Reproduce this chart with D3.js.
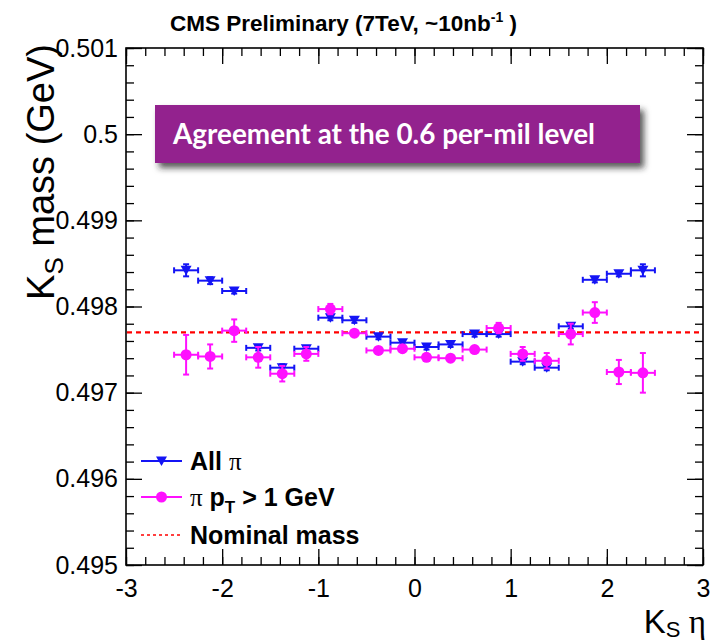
<!DOCTYPE html>
<html>
<head>
<meta charset="utf-8">
<script src="https://cdn.jsdelivr.net/npm/d3@7"></script>
<style>
  body { margin: 0; background: #fff; }
  svg { display: block; }
</style>
</head>
<body>
<svg id="chart" width="717" height="643"></svg>
<script>
// K_S eta bins (width 0.25)
const binCenters = [-2.375, -2.125, -1.875, -1.625, -1.375, -1.125, -0.875, -0.625, -0.375, -0.125,
                     0.125,  0.375,  0.625,  0.875,  1.125,  1.375,  1.625,  1.875,  2.125,  2.375];
const binHalfWidth = 0.125;

// Fitted K_S mass (GeV), all pion daughters
const allPiMass = [0.49842, 0.49830, 0.49818, 0.49752, 0.49729, 0.49751, 0.49787, 0.49784, 0.49765, 0.49758,
                   0.49753, 0.49756, 0.49768, 0.49768, 0.49736, 0.49729, 0.49777, 0.49831, 0.49838, 0.49842];
const allPiErr  = [0.00007, 0.00004, 0.00003, 0.00003, 0.00004, 0.00003, 0.00003, 0.00003, 0.00003, 0.00003,
                   0.00003, 0.00003, 0.00003, 0.00003, 0.00003, 0.00003, 0.00003, 0.00003, 0.00003, 0.00007];

// Fitted K_S mass (GeV), pion daughters with pT > 1 GeV
const highPtMass = [0.49744, 0.49742, 0.49772, 0.49741, 0.49722, 0.49745, 0.49797, 0.49769, 0.49749, 0.49751,
                    0.49741, 0.49740, 0.49750, 0.49775, 0.49745, 0.49737, 0.49768, 0.49793, 0.49724, 0.49723];
const highPtErr  = [0.00023, 0.00014, 0.00013, 0.00012, 0.00009, 0.00008, 0.00006, 0.00003, 0.00003, 0.00003,
                    0.00003, 0.00003, 0.00003, 0.00006, 0.00008, 0.00009, 0.00012, 0.00012, 0.00014, 0.00023];

const nominalMass = 0.4977;

const xTickValues = [-3, -2, -1, 0, 1, 2, 3];
const xTickLabels = ["-3", "-2", "-1", "0", "1", "2", "3"];
const yTickValues = [0.495, 0.496, 0.497, 0.498, 0.499, 0.500, 0.501];
const yTickLabels = ["0.495", "0.496", "0.497", "0.498", "0.499", "0.5", "0.501"];

const seriesNames = ["All \u03c0", "\u03c0 p", "Nominal mass"];

const svg = d3.select("#chart");
const frame = { left: 126, right: 703, top: 48, bottom: 565 };

const x = d3.scaleLinear().domain([-3, 3]).range([frame.left, frame.right]);
const y = d3.scaleLinear().domain([0.495, 0.501]).range([frame.bottom, frame.top]);

const font = "'Liberation Sans', Arial, Helvetica, sans-serif";

// ---- axes (ROOT style: ticks on all four sides, pointing inward) ----
function styleAxis(g) {
  g.select(".domain").remove();
  g.selectAll(".tick line").attr("stroke", "#000").attr("stroke-width", 1.3);
  g.selectAll("text").attr("font-family", font).attr("font-size", 25).attr("fill", "#000");
}

const xMinor = x.ticks(30);
const yMinor = y.ticks(30);

// bottom
svg.append("g").attr("transform", `translate(0,${frame.bottom})`)
  .call(d3.axisBottom(x).tickValues(xMinor).tickSize(-8).tickFormat(""))
  .call(styleAxis);
svg.append("g").attr("transform", `translate(0,${frame.bottom})`)
  .call(d3.axisBottom(x).tickValues(xTickValues).tickSize(-16).tickPadding(10)
        .tickFormat((d, i) => xTickLabels[i]))
  .call(styleAxis)
  .selectAll("text").attr("dy", "0.71em").attr("y", 14);
// top
svg.append("g").attr("transform", `translate(0,${frame.top})`)
  .call(d3.axisTop(x).tickValues(xMinor).tickSize(-8).tickFormat(""))
  .call(styleAxis);
svg.append("g").attr("transform", `translate(0,${frame.top})`)
  .call(d3.axisTop(x).tickValues(xTickValues).tickSize(-16).tickFormat(""))
  .call(styleAxis);
// left
svg.append("g").attr("transform", `translate(${frame.left},0)`)
  .call(d3.axisLeft(y).tickValues(yMinor).tickSize(-8).tickFormat(""))
  .call(styleAxis);
svg.append("g").attr("transform", `translate(${frame.left},0)`)
  .call(d3.axisLeft(y).tickValues(yTickValues).tickSize(-16).tickPadding(8)
        .tickFormat((d, i) => yTickLabels[i]))
  .call(styleAxis)
  .selectAll("text").attr("x", -8);
// right
svg.append("g").attr("transform", `translate(${frame.right},0)`)
  .call(d3.axisRight(y).tickValues(yMinor).tickSize(-8).tickFormat(""))
  .call(styleAxis);
svg.append("g").attr("transform", `translate(${frame.right},0)`)
  .call(d3.axisRight(y).tickValues(yTickValues).tickSize(-16).tickFormat(""))
  .call(styleAxis);

// frame
svg.append("rect")
  .attr("x", frame.left).attr("y", frame.top)
  .attr("width", frame.right - frame.left).attr("height", frame.bottom - frame.top)
  .attr("fill", "none").attr("stroke", "#000").attr("stroke-width", 1.6);

// ---- nominal mass line ----
svg.append("line")
  .attr("x1", frame.left + 1).attr("x2", frame.right - 1)
  .attr("y1", y(nominalMass)).attr("y2", y(nominalMass))
  .attr("stroke", "#ff0000").attr("stroke-width", 2.2).attr("stroke-dasharray", "5,4");

// ---- data series with error bars ----
function drawSeries(values, errors, color, marker) {
  const g = svg.append("g");
  const cap = 3;
  const pts = binCenters.map((c, i) => ({ c, v: values[i], e: errors[i] }));
  const pg = g.selectAll("g.pt").data(pts).join("g").attr("class", "pt");
  // horizontal bin-width bar with end caps
  pg.append("line")
    .attr("x1", d => x(d.c - binHalfWidth)).attr("x2", d => x(d.c + binHalfWidth))
    .attr("y1", d => y(d.v)).attr("y2", d => y(d.v));
  pg.append("line")
    .attr("x1", d => x(d.c - binHalfWidth)).attr("x2", d => x(d.c - binHalfWidth))
    .attr("y1", d => y(d.v) - cap).attr("y2", d => y(d.v) + cap);
  pg.append("line")
    .attr("x1", d => x(d.c + binHalfWidth)).attr("x2", d => x(d.c + binHalfWidth))
    .attr("y1", d => y(d.v) - cap).attr("y2", d => y(d.v) + cap);
  // vertical error with caps
  pg.append("line")
    .attr("x1", d => x(d.c)).attr("x2", d => x(d.c))
    .attr("y1", d => y(d.v - d.e)).attr("y2", d => y(d.v + d.e));
  pg.append("line")
    .attr("x1", d => x(d.c) - cap).attr("x2", d => x(d.c) + cap)
    .attr("y1", d => y(d.v - d.e)).attr("y2", d => y(d.v - d.e));
  pg.append("line")
    .attr("x1", d => x(d.c) - cap).attr("x2", d => x(d.c) + cap)
    .attr("y1", d => y(d.v + d.e)).attr("y2", d => y(d.v + d.e));
  pg.selectAll("line").attr("stroke", color).attr("stroke-width", 2);
  // markers
  if (marker === "triangle") {
    pg.append("path")
      .attr("d", d => { const cx = x(d.c), cy = y(d.v);
        return `M${cx - 5.5},${cy - 4.5}L${cx + 5.5},${cy - 4.5}L${cx},${cy + 5}Z`; })
      .attr("fill", color);
  } else {
    pg.append("circle").attr("cx", d => x(d.c)).attr("cy", d => y(d.v)).attr("r", 5.5).attr("fill", color);
  }
}
drawSeries(allPiMass, allPiErr, "#1414f5", "triangle");
drawSeries(highPtMass, highPtErr, "#ff10ff", "circle");

// ---- legend ----
const legend = svg.append("g");
const lx1 = 141, lx2 = 182, lmid = 161.5, ltext = 190;
const rows = [461, 497, 535];
legend.append("line").attr("x1", lx1).attr("x2", lx2).attr("y1", rows[0]).attr("y2", rows[0])
  .attr("stroke", "#1414f5").attr("stroke-width", 2);
legend.append("path")
  .attr("d", `M${lmid - 5.5},${rows[0] - 4.5}L${lmid + 5.5},${rows[0] - 4.5}L${lmid},${rows[0] + 5}Z`)
  .attr("fill", "#1414f5");
legend.append("line").attr("x1", lx1).attr("x2", lx2).attr("y1", rows[1]).attr("y2", rows[1])
  .attr("stroke", "#ff10ff").attr("stroke-width", 2);
legend.append("circle").attr("cx", lmid).attr("cy", rows[1]).attr("r", 5.5).attr("fill", "#ff10ff");
legend.append("line").attr("x1", lx1).attr("x2", lx2).attr("y1", rows[2]).attr("y2", rows[2])
  .attr("stroke", "#ff0000").attr("stroke-width", 1.6).attr("stroke-dasharray", "3,3");

const serif = "'Liberation Serif', 'DejaVu Serif', serif";
const t0 = legend.append("text").attr("x", ltext).attr("y", rows[0] + 9)
  .attr("font-family", font).attr("font-size", 25).attr("font-weight", "bold");
t0.append("tspan").text("All ");
t0.append("tspan").attr("font-family", serif).attr("font-weight", "normal").text("\u03c0");

const t1 = legend.append("text").attr("x", ltext).attr("y", rows[1] + 9)
  .attr("font-family", font).attr("font-size", 25).attr("font-weight", "bold");
t1.append("tspan").attr("font-family", serif).attr("font-weight", "normal").text("\u03c0");
t1.append("tspan").text(" p");
t1.append("tspan").attr("font-size", 17).attr("dy", 7).text("T");
t1.append("tspan").attr("dy", -7).text(" > 1 GeV");

legend.append("text").attr("x", ltext).attr("y", rows[2] + 9)
  .attr("font-family", font).attr("font-size", 25).attr("font-weight", "bold").text(seriesNames[2]);

// ---- title ----
const title = svg.append("text").attr("x", 170).attr("y", 31)
  .attr("font-family", font).attr("font-size", 22.5).attr("font-weight", "bold");
title.append("tspan").text("CMS Preliminary (7TeV, ~10nb");
title.append("tspan").attr("font-size", 14).attr("dy", -9).text("-1");
title.append("tspan").attr("dy", 9).text(" )");

// ---- axis titles ----
const yTitle = svg.append("text")
  .attr("transform", "translate(54,44) rotate(-90)")
  .attr("text-anchor", "end")
  .attr("font-family", font).attr("font-size", 38);
yTitle.append("tspan").text("K");
yTitle.append("tspan").attr("font-size", 26).attr("dy", 9).text("S");
yTitle.append("tspan").attr("dy", -9).text(" mass (GeV)");

const xTitle = svg.append("text")
  .attr("x", 706).attr("y", 633).attr("text-anchor", "end")
  .attr("font-family", font).attr("font-size", 33);
xTitle.append("tspan").text("K");
xTitle.append("tspan").attr("font-size", 22).attr("dy", 4).text("S");
xTitle.append("tspan").attr("dy", -4).attr("font-family", serif).text(" \u03b7");

// ---- annotation box ----
const defs = svg.append("defs");
const shadow = defs.append("filter").attr("id", "boxShadow")
  .attr("x", "-10%").attr("y", "-20%").attr("width", "130%").attr("height", "160%");
shadow.append("feDropShadow").attr("dx", 4).attr("dy", 5).attr("stdDeviation", 3)
  .attr("flood-color", "#222").attr("flood-opacity", 0.75);

svg.append("rect").attr("x", 155).attr("y", 105).attr("width", 485).attr("height", 58)
  .attr("fill", "#93218e").attr("filter", "url(#boxShadow)");
const note = svg.append("text").attr("x", 173).attr("y", 144)
  .attr("font-family", "Lato, 'Open Sans', sans-serif").attr("font-weight", "bold")
  .attr("font-size", 26).attr("fill", "#fff")
  .text("Agreement at the 0.6 per-mil level");
// fit annotation text to the box interior
const targetW = 422;
const w = note.node().getComputedTextLength();
note.attr("font-size", 26 * targetW / w);
</script>
</body>
</html>
